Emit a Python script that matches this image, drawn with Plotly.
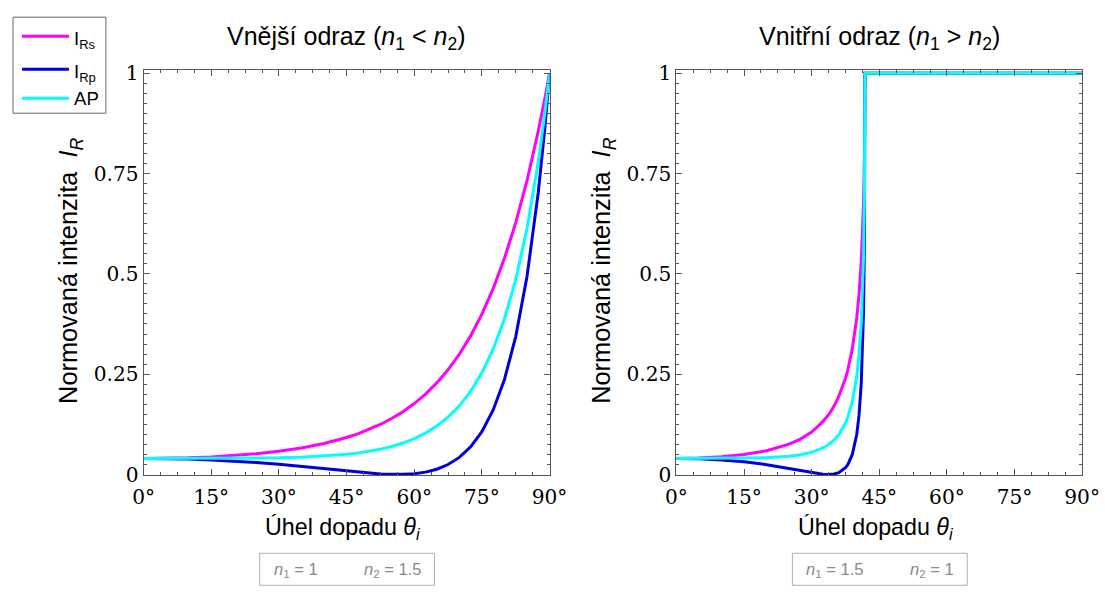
import plotly.graph_objects as go

# The photographed page maps figure pixels to picture pixels as
#   picture = S * figure + B  (measured); positions below are given in
#   reference-picture pixels and converted back to figure pixels.
SX, BX = 0.975, 10.0
SY, BY = 0.967, 8.8
W, H = 1125, 608

# ---- data ----
theta_ext = [0, 5, 10, 15, 20, 25, 30, 35, 40, 42.5, 45, 47.5, 50, 52.5, 55, 56.3, 57.5,
             60, 62.5, 65, 67.5, 70, 72.5, 75, 77.5, 80, 82.5, 85, 87.5, 89, 90]
rs_ext = [0.0400, 0.0404, 0.0417, 0.0438, 0.0471, 0.0516, 0.0578, 0.0661, 0.0772, 0.0840, 0.0920,
          0.1013, 0.1121, 0.1246, 0.1393, 0.1479, 0.1564, 0.1766, 0.2002, 0.2281, 0.2609, 0.2996,
          0.3453, 0.3994, 0.4632, 0.5386, 0.6276, 0.7323, 0.8556, 0.9395, 1.0]
rp_ext = [0.0400, 0.0396, 0.0384, 0.0363, 0.0335, 0.0298, 0.0253, 0.0200, 0.0143, 0.0114, 0.0085,
          0.0057, 0.0033, 0.0013, 0.0002, 0.0, 0.0002, 0.0018, 0.0058, 0.0130, 0.0247, 0.0425,
          0.0688, 0.1068, 0.1607, 0.2368, 0.3436, 0.4932, 0.7034, 0.8689, 1.0]
ap_ext = [0.0400, 0.0400, 0.0400, 0.0401, 0.0403, 0.0407, 0.0415, 0.0430, 0.0457, 0.0477, 0.0502,
          0.0535, 0.0577, 0.0630, 0.0697, 0.0740, 0.0783, 0.0892, 0.1030, 0.1205, 0.1428, 0.1710,
          0.2070, 0.2531, 0.3120, 0.3877, 0.4856, 0.6128, 0.7795, 0.9042, 1.0]

theta_int = [0, 5, 10, 15, 20, 25, 27.5, 30, 32.5, 33.7, 34, 35, 36, 37.5, 38, 39, 40, 40.5,
             41, 41.5, 41.7, 41.81, 45, 60, 75, 90]
rs_int = [0.0400, 0.0409, 0.0439, 0.0495, 0.0591, 0.0755, 0.0882, 0.1058, 0.1314, 0.1479, 0.1529,
          0.1711, 0.1937, 0.2398, 0.2601, 0.3122, 0.3905, 0.4483, 0.5310, 0.6751, 0.7911, 1.0,
          1.0, 1.0, 1.0, 1.0]
rp_int = [0.0400, 0.0391, 0.0363, 0.0315, 0.0244, 0.0151, 0.0098, 0.0046, 0.0007, 0.0, 0.0001,
          0.0012, 0.0045, 0.0168, 0.0243, 0.0492, 0.1001, 0.1472, 0.2285, 0.4082, 0.5888, 1.0,
          1.0, 1.0, 1.0, 1.0]
ap_int = [0.0400, 0.0400, 0.0401, 0.0405, 0.0418, 0.0453, 0.0490, 0.0552, 0.0661, 0.0740, 0.0765,
          0.0862, 0.0991, 0.1283, 0.1422, 0.1807, 0.2453, 0.2978, 0.3798, 0.5417, 0.6900, 1.0,
          1.0, 1.0, 1.0, 1.0]

x_ticks = [0, 15, 30, 45, 60, 75, 90]
x_tick_text = ["0°", "15°", "30°", "45°", "60°", "75°", "90°"]
y_ticks = [0, 0.25, 0.5, 0.75, 1]
y_tick_text = ["0", "0.25", "0.5", "0.75", "1"]

series_names = ["I<sub>Rs</sub>", "I<sub>Rp</sub>", "AP"]
colors = ["#ff00ff", "#0000dd", "#00ffff"]

titles = ["Vnější odraz (<i>n</i><sub>1</sub> &lt; <i>n</i><sub>2</sub>)",
          "Vnitřní odraz (<i>n</i><sub>1</sub> &gt; <i>n</i><sub>2</sub>)"]
n1_text = ["<i>n</i><sub>1</sub> = 1", "<i>n</i><sub>1</sub> = 1.5"]
n2_text = ["<i>n</i><sub>2</sub> = 1.5", "<i>n</i><sub>2</sub> = 1"]

SANS = "Liberation Sans"
SERIF = "DejaVu Serif"


def fx(x):
    return (x - BX) / SX


def fy(y):
    return (y - BY) / SY


def px(x):
    return fx(x) / W


def py(y):
    return 1 - fy(y) / H


def fs(size):
    return size / SY


fig = go.Figure()

panels = [(theta_ext, [rs_ext, rp_ext, ap_ext]), (theta_int, [rs_int, rp_int, ap_int])]
for i, (th, ys) in enumerate(panels):
    xa = "x" if i == 0 else "x2"
    ya = "y" if i == 0 else "y2"
    for name, col, yv in zip(series_names, colors, ys):
        fig.add_trace(go.Scatter(x=th, y=yv, mode="lines", name=name,
                                 line=dict(color=col, width=3),
                                 xaxis=xa, yaxis=ya, showlegend=False))

# axis geometry in reference-picture pixels
left_x = [(142.7, 549), (676, 1082)]
y_top, y_bot = 70, 475

axis_common = dict(showline=True, linecolor="#555", linewidth=1, mirror="ticks",
                   ticks="inside", ticklen=6, tickcolor="#555", tickwidth=1,
                   showgrid=False, zeroline=False,
                   tickfont=dict(family=SERIF, size=fs(19.5), color="black"))

layout = dict(width=W, height=H, margin=dict(l=0, r=0, t=0, b=0),
              paper_bgcolor="white", plot_bgcolor="white")

for i, (x0, x1) in enumerate(left_x):
    sx = "" if i == 0 else "2"
    layout["xaxis" + sx] = dict(domain=[px(x0), px(x1)], range=[0, 90],
                                tickvals=x_ticks, ticktext=x_tick_text, ticklabelstandoff=4,
                                minor=dict(dtick=3.75, ticklen=3, tickcolor="#555", ticks="inside"),
                                anchor="y" + sx, **axis_common)
    layout["yaxis" + sx] = dict(domain=[py(y_bot), py(y_top)], range=[-0.002, 1.0075],
                                tickvals=y_ticks, ticktext=y_tick_text,
                                minor=dict(dtick=0.025, ticklen=3, tickcolor="#555", ticks="inside"),
                                anchor="x" + sx, **axis_common)

fig.update_layout(**layout)

ann = []
shapes = []
for i, (x0, x1) in enumerate(left_x):
    cx = (x0 + x1) / 2
    ann.append(dict(text=titles[i], x=px(cx), y=py(38), xref="paper", yref="paper",
                    showarrow=False, font=dict(family=SANS, size=fs(24.2), color="black"),
                    xanchor="center", yanchor="middle"))
    ann.append(dict(text="Úhel dopadu <i>θ</i><sub><i>i</i></sub>", x=px(cx - 4), y=py(528),
                    xref="paper", yref="paper", showarrow=False,
                    font=dict(family=SANS, size=fs(22.5), color="black"),
                    xanchor="center", yanchor="middle"))
    ann.append(dict(text="Normovaná intenzita  <i>I</i><sub><i>R</i></sub>", x=px(x0 - 73), y=py(271),
                    xref="paper", yref="paper", showarrow=False, textangle=-90,
                    font=dict(family=SANS, size=fs(24.5), color="black"),
                    xanchor="center", yanchor="middle"))
    bx0 = cx - 87
    shapes.append(dict(type="rect", xref="paper", yref="paper",
                       x0=px(bx0), x1=px(bx0 + 175), y0=py(553), y1=py(585),
                       line=dict(color="#b0b0b0", width=1)))
    ann.append(dict(text=n1_text[i], x=px(bx0 + 12), y=py(570), xref="paper", yref="paper",
                    showarrow=False, font=dict(family=SANS, size=fs(16), color="#8a8a8a"),
                    xanchor="left", yanchor="middle"))
    ann.append(dict(text=n2_text[i], x=px(bx0 + (102 if i == 0 else 116)), y=py(570),
                    xref="paper", yref="paper",
                    showarrow=False, font=dict(family=SANS, size=fs(16), color="#8a8a8a"),
                    xanchor="left", yanchor="middle"))

# legend box
shapes.append(dict(type="rect", xref="paper", yref="paper", x0=px(12), x1=px(105),
                   y0=py(17), y1=py(113), line=dict(color="#666", width=1),
                   fillcolor="white"))
leg_y = [36, 69, 98]
for name, col, ly in zip(series_names, colors, leg_y):
    shapes.append(dict(type="line", xref="paper", yref="paper", x0=px(21), x1=px(68),
                       y0=py(ly), y1=py(ly), line=dict(color=col, width=3)))
    ann.append(dict(text=name, x=px(71), y=py(ly + (4 if name != "AP" else 0)),
                    xref="paper", yref="paper", showarrow=False,
                    font=dict(family=SANS, size=fs(18), color="black"),
                    xanchor="left", yanchor="middle"))

fig.update_layout(annotations=ann, shapes=shapes)

fig.write_html("out.html")
